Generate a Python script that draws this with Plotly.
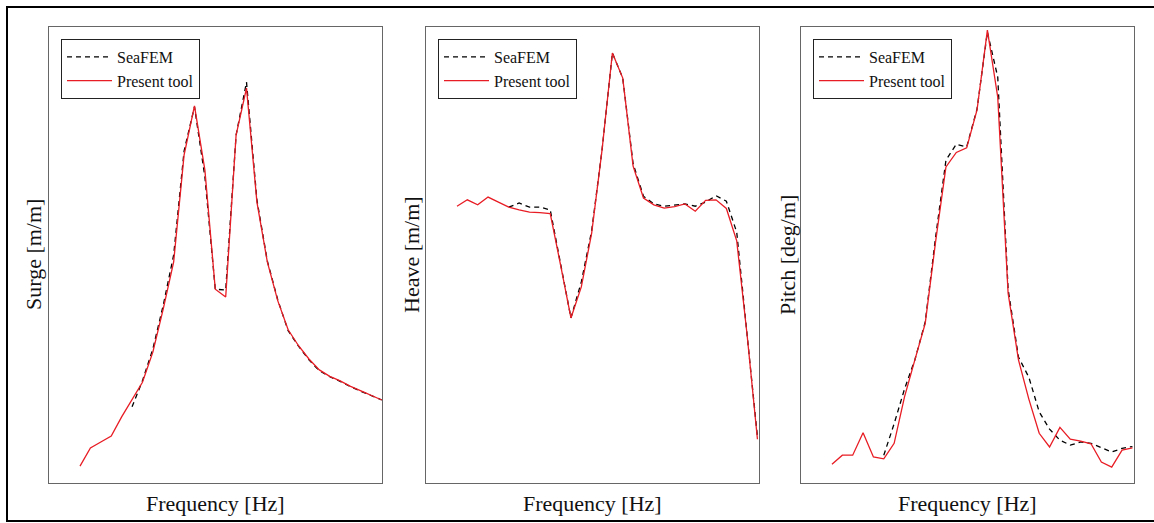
import plotly.graph_objects as go

# Frequency samples [Hz] (uniform sampling)
frequency = [0.02, 0.03, 0.04, 0.05, 0.06, 0.07, 0.08, 0.09, 0.10, 0.11,
             0.12, 0.13, 0.14, 0.15, 0.16, 0.17, 0.18, 0.19, 0.20, 0.21,
             0.22, 0.23, 0.24, 0.25, 0.26, 0.27, 0.28, 0.29, 0.30, 0.31]

# Surge RAO (normalised amplitude)
surge_present = [0.037, 0.077, 0.090, 0.103, 0.145, 0.182, 0.221, 0.287, 0.382, 0.485,
                 0.719, 0.827, 0.686, 0.425, 0.408, 0.763, 0.866, 0.616, 0.485, 0.400,
                 0.336, 0.301, 0.272, 0.248, 0.234, 0.224, 0.212, 0.202, 0.192, 0.182]
surge_seafem = [None, None, None, None, None, 0.167, 0.224, 0.294, 0.390, 0.500,
                0.728, 0.825, 0.671, 0.425, 0.423, 0.763, 0.879, 0.621, 0.487, 0.402,
                0.334, 0.300, 0.270, 0.246, 0.233, 0.223, 0.211, 0.201, 0.192, 0.182]

# Heave RAO (normalised amplitude)
heave_present = [0.607, 0.621, 0.610, 0.627, 0.616, 0.605, 0.599, 0.594, 0.593, 0.591,
                 0.478, 0.362, 0.430, 0.548, 0.730, 0.943, 0.888, 0.695, 0.625, 0.610,
                 0.603, 0.606, 0.612, 0.596, 0.620, 0.621, 0.602, 0.531, 0.325, 0.096]
heave_seafem = [None, None, None, None, None, 0.605, 0.614, 0.605, 0.605, 0.599,
                0.482, 0.362, 0.441, 0.553, 0.730, 0.943, 0.888, 0.700, 0.629, 0.612,
                0.607, 0.610, 0.612, 0.607, 0.616, 0.630, 0.618, 0.550, 0.333, 0.101]

# Pitch RAO (normalised amplitude)
pitch_present = [0.041, 0.061, 0.061, 0.110, 0.057, 0.053, 0.087, 0.189, 0.270, 0.350,
                 0.529, 0.693, 0.725, 0.735, 0.818, 0.993, 0.846, 0.416, 0.270, 0.184,
                 0.109, 0.079, 0.122, 0.096, 0.092, 0.086, 0.046, 0.035, 0.072, 0.077]
pitch_seafem = [None, None, None, None, None, 0.061, 0.130, 0.206, 0.270, 0.353,
                0.539, 0.708, 0.743, 0.737, 0.820, 0.989, 0.890, 0.425, 0.276, 0.232,
                0.156, 0.118, 0.094, 0.083, 0.090, 0.087, 0.078, 0.068, 0.076, 0.080]

y_titles = ["Surge [m/m]", "Heave [m/m]", "Pitch [deg/m]"]
x_title = "Frequency [Hz]"
series = [(surge_seafem, surge_present), (heave_seafem, heave_present), (pitch_seafem, pitch_present)]

W, H = 1154, 523
panel_px = [(49, 382), (426, 759), (801, 1134)]
top_px, bot_px = 27, 483
legend_left_px = [61, 438, 813]
ytitle_x_px = [33, 411, 787]

SERIF = "Liberation Serif, Times New Roman, serif"
RED = "rgb(232,28,36)"

fig = go.Figure()
layout = dict(
    width=W, height=H, margin=dict(l=0, r=0, t=0, b=0),
    paper_bgcolor="white", plot_bgcolor="white",
    font=dict(family=SERIF, color="#111"),
    shapes=[], annotations=[],
)
for k, ((sea, pres), (x0, x1)) in enumerate(zip(series, panel_px)):
    n = "" if k == 0 else str(k + 1)
    leg = "legend" + n
    fig.add_trace(go.Scatter(x=frequency, y=sea, mode="lines", name="SeaFEM",
                             line=dict(color="black", width=1.3, dash="5px,4px"),
                             xaxis="x" + n, yaxis="y" + n, legend=leg, connectgaps=False))
    fig.add_trace(go.Scatter(x=frequency, y=pres, mode="lines", name="Present tool",
                             line=dict(color=RED, width=1.3),
                             xaxis="x" + n, yaxis="y" + n, legend=leg))
    ax = dict(domain=[x0 / W, x1 / W], range=[-0.0099, 0.3115] if k else [-0.0098, 0.3102],
              showticklabels=False, ticks="", showgrid=False, zeroline=False,
              showline=True, mirror=True, linecolor="#666", linewidth=1,
              anchor="y" + n)
    ay = dict(domain=[1 - bot_px / H, 1 - top_px / H], range=[0, 1],
              showticklabels=False, ticks="", showgrid=False, zeroline=False,
              showline=True, mirror=True, linecolor="#666", linewidth=1,
              anchor="x" + n)
    layout["xaxis" + n] = ax
    layout["yaxis" + n] = ay
    layout[leg] = dict(x=legend_left_px[k] / W, y=1 - 39 / H, xanchor="left", yanchor="top",
                       bgcolor="white", bordercolor="#222", borderwidth=1,
                       font=dict(family=SERIF, size=16, color="#111"),
                       itemwidth=45, tracegroupgap=0)
    layout["annotations"].append(dict(text=y_titles[k], xref="paper", yref="paper",
                                      x=ytitle_x_px[k] / W, y=1 - 255 / H, textangle=-90,
                                      showarrow=False, xanchor="center", yanchor="middle",
                                      font=dict(family=SERIF, size=22, color="#111")))
    layout["annotations"].append(dict(text=x_title, xref="paper", yref="paper",
                                      x=(x0 + x1) / 2 / W, y=1 - 503 / H,
                                      showarrow=False, xanchor="center", yanchor="middle",
                                      font=dict(family=SERIF, size=22, color="#111")))

layout["shapes"].append(dict(type="rect", xref="paper", yref="paper",
                             x0=7 / W, x1=1.02, y0=1 - 521 / H, y1=1 - 7 / H,
                             line=dict(color="black", width=2)))
fig.update_layout(**layout)

fig.write_html("out.html", config={"displayModeBar": False},
               post_script="document.body.style.margin='0';document.body.style.overflow='hidden';")
